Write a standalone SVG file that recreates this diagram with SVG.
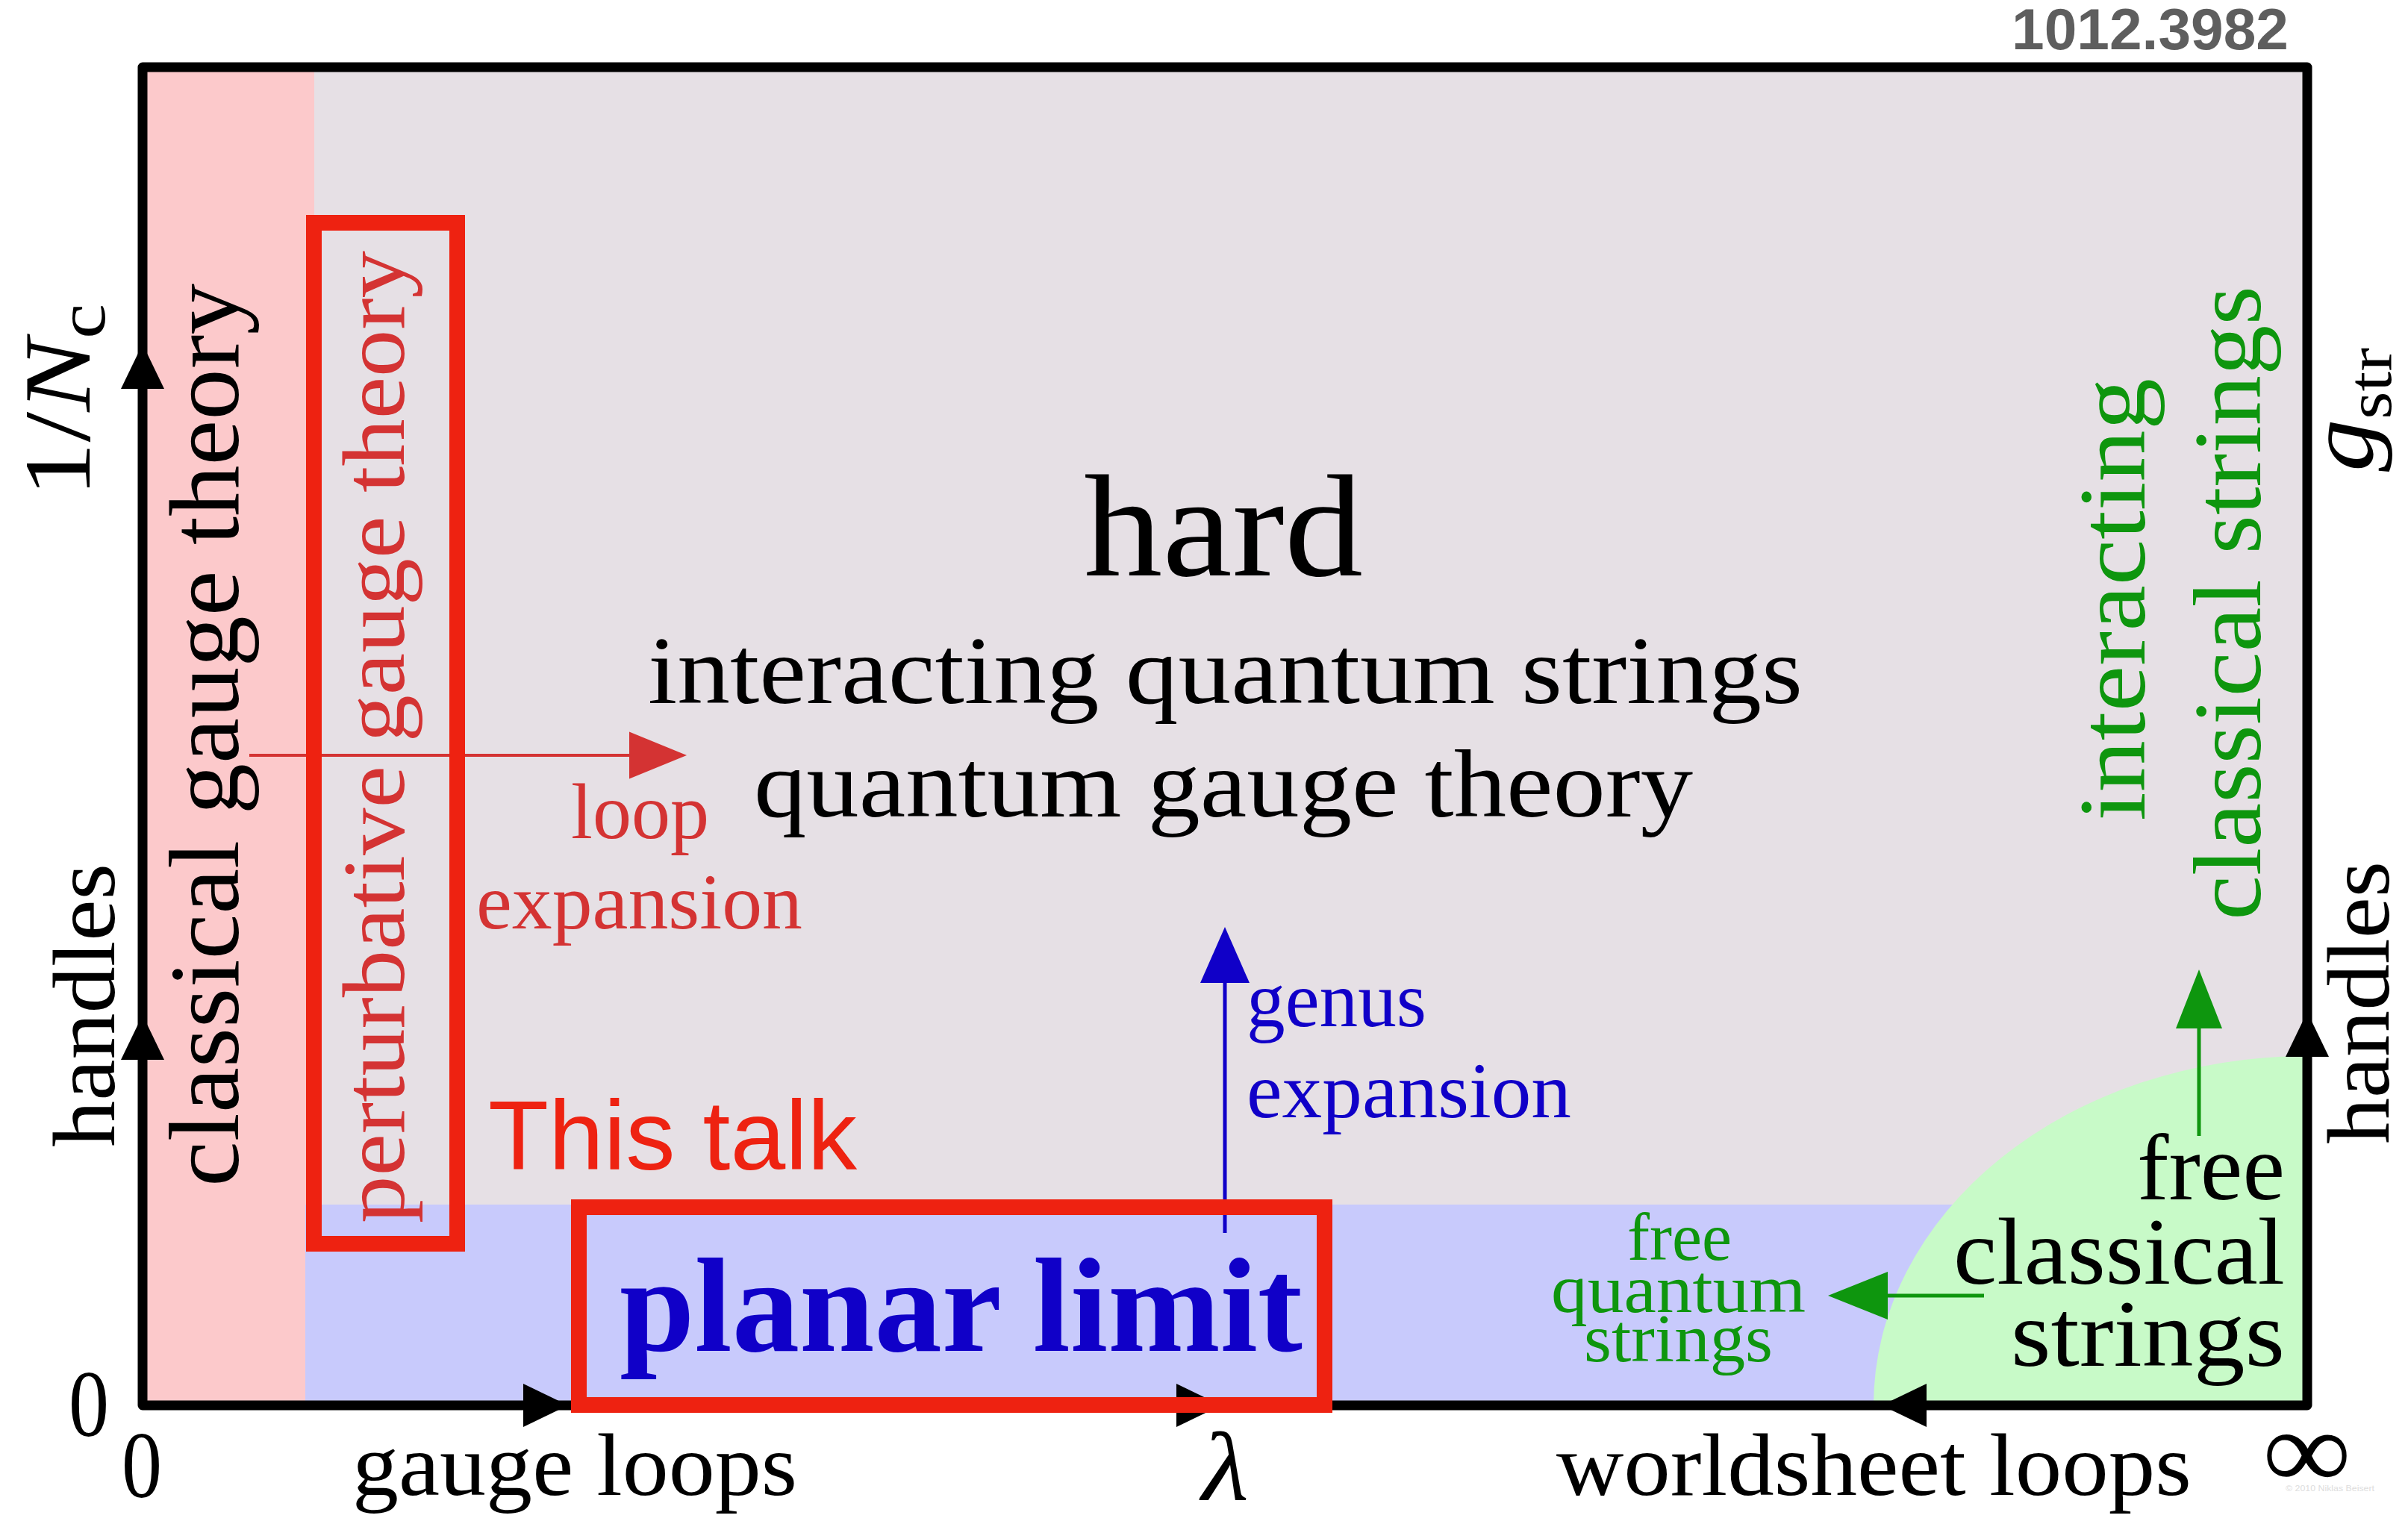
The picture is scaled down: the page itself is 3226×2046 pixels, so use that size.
<svg xmlns="http://www.w3.org/2000/svg" xmlns:xlink="http://www.w3.org/1999/xlink" width="3226" height="2046" viewBox="0 0 3226 2046">
<style>
.serif{font-family:"Liberation Serif","Times New Roman",serif}
.sans{font-family:"Liberation Sans",Arial,sans-serif}
.blk{fill:#000}
.red{fill:#D43333}
.blue{fill:#1000C8}
.green{fill:#0E960E}
.hl{fill:none;stroke:#EE2211;stroke-width:21}
.frame{fill:none;stroke:#000;stroke-width:13;stroke-linejoin:round}
</style>
<defs>
<path id="ah" d="M0,0 L-60,-29 L-60,29 Z"/>
</defs>
<rect width="3226" height="2046" fill="#fff"/>
<g id="regions">
<rect id="hard-region" x="191" y="90" width="2900" height="1793" fill="#E6E0E5"/>
<rect id="classical-region" x="191" y="90" width="230" height="1793" fill="#FCC9CB"/>
<rect id="planar-region" x="409" y="1614" width="2682" height="269" fill="#C8CAFC"/>
<path id="free-classical-region" d="M2510,1883 A581,468 0 0 1 3091,1415 L3091,1883 Z" fill="#C8FAC8"/>
</g>
<g id="texts">
<g id="hard"><text class="serif blk" x="1452" y="771" font-size="196" textLength="374" lengthAdjust="spacingAndGlyphs">hard</text>
<text class="serif blk" x="868" y="942" font-size="130" textLength="1547" lengthAdjust="spacingAndGlyphs">interacting quantum strings</text>
<text class="serif blk" x="1010" y="1094" font-size="130" textLength="1258" lengthAdjust="spacingAndGlyphs">quantum gauge theory</text></g>
<g id="loop-expansion"><text class="serif red" x="765" y="1123" font-size="106" textLength="185" lengthAdjust="spacingAndGlyphs">loop</text>
<text class="serif red" x="638" y="1244" font-size="106" textLength="437" lengthAdjust="spacingAndGlyphs">expansion</text></g>
<g id="genus-expansion"><text class="serif blue" x="1670" y="1375" font-size="106" textLength="241" lengthAdjust="spacingAndGlyphs">genus</text>
<text class="serif blue" x="1670" y="1497" font-size="106" textLength="435" lengthAdjust="spacingAndGlyphs">expansion</text></g>
<g id="this-talk"><text x="654" y="1567" font-family="Liberation Sans, Arial, sans-serif" font-size="132" fill="#EE2211" textLength="494" lengthAdjust="spacingAndGlyphs">This talk</text></g>
<g id="planar-limit"><text class="serif blue" x="830" y="1810" font-size="180" font-weight="bold" textLength="915" lengthAdjust="spacingAndGlyphs">planar limit</text></g>
<g id="free-quantum-strings"><text class="serif green" x="2180" y="1688" font-size="90" textLength="140" lengthAdjust="spacingAndGlyphs">free</text>
<text class="serif green" x="2078" y="1758" font-size="90" textLength="341" lengthAdjust="spacingAndGlyphs">quantum</text>
<text class="serif green" x="2122" y="1824" font-size="90" textLength="253" lengthAdjust="spacingAndGlyphs">strings</text></g>
<g id="free-classical-strings"><text class="serif blk" x="2863" y="1607" font-size="128" textLength="198" lengthAdjust="spacingAndGlyphs">free</text>
<text class="serif blk" x="2617" y="1720" font-size="128" textLength="444" lengthAdjust="spacingAndGlyphs">classical</text>
<text class="serif blk" x="2694" y="1830" font-size="128" textLength="367" lengthAdjust="spacingAndGlyphs">strings</text></g>
<g id="classical-gauge-theory"><text class="serif blk" transform="translate(319,1590) rotate(-90)" font-size="133" textLength="1210" lengthAdjust="spacingAndGlyphs">classical gauge theory</text></g>
<g id="perturbative-gauge-theory"><text class="serif red" transform="translate(541,1639) rotate(-90)" font-size="118" textLength="1303" lengthAdjust="spacingAndGlyphs">perturbative gauge theory</text></g>
<g id="interacting-classical-strings"><text class="serif green" transform="translate(2873,1100) rotate(-90)" font-size="126" textLength="593" lengthAdjust="spacingAndGlyphs">interacting</text>
<text class="serif green" transform="translate(3028,1233) rotate(-90)" font-size="130" textLength="850" lengthAdjust="spacingAndGlyphs">classical strings</text></g>
<g id="axis-labels">
<text class="serif blk" transform="translate(120,666) rotate(-90)" font-size="128" textLength="259" lengthAdjust="spacingAndGlyphs">1/<tspan font-style="italic">N</tspan><tspan font-size="92" dy="20">c</tspan></text>
<text class="serif blk" transform="translate(153,1537) rotate(-90)" font-size="118" textLength="380" lengthAdjust="spacingAndGlyphs">handles</text>
<text class="serif blk" transform="translate(3178,632) rotate(-90)" font-size="125" textLength="166" lengthAdjust="spacingAndGlyphs"><tspan font-style="italic">g</tspan><tspan font-size="85" dy="25">str</tspan></text>
<text class="serif blk" transform="translate(3200,1533) rotate(-90)" font-size="118" textLength="379" lengthAdjust="spacingAndGlyphs">handles</text>
<text class="serif blk" x="92" y="1924" font-size="126" textLength="54" lengthAdjust="spacingAndGlyphs">0</text>
<text class="serif blk" x="163" y="2006" font-size="126" textLength="54" lengthAdjust="spacingAndGlyphs">0</text>
<text class="serif blk" x="472" y="2003" font-size="118" textLength="596" lengthAdjust="spacingAndGlyphs">gauge loops</text>
<text class="serif blk" x="1610" y="2010" font-size="131" font-style="italic" textLength="63" lengthAdjust="spacingAndGlyphs">λ</text>
<text class="serif blk" x="2085" y="2003" font-size="118" textLength="851" lengthAdjust="spacingAndGlyphs">worldsheet loops</text>
<text class="serif blk" x="3031" y="1994" font-size="150" textLength="119" lengthAdjust="spacingAndGlyphs">∞</text>
</g>
<g id="arxiv-id"><text class="sans" x="2695" y="66" font-size="78" font-weight="bold" fill="#5E5E5E" textLength="371" lengthAdjust="spacingAndGlyphs">1012.3982</text></g>
<g id="copyright"><text class="sans" x="3062" y="1998" font-size="11" fill="#DDDDDD" textLength="119" lengthAdjust="spacingAndGlyphs">© 2010 Niklas Beisert</text></g>
</g>
<g id="connectors">
<g id="loop-arrow" fill="#D43333"><line x1="334" y1="1012" x2="850" y2="1012" stroke="#D43333" stroke-width="4"/><path d="M920,1012 L843,980.5 L843,1043.5 Z"/></g>
<g id="genus-arrow" fill="#1000C8"><line x1="1641" y1="1652" x2="1641" y2="1310" stroke="#1000C8" stroke-width="5"/><path d="M1641,1242 L1608,1317 L1674,1317 Z"/></g>
<g id="green-up-arrow" fill="#0E960E"><line x1="2946" y1="1522" x2="2946" y2="1370" stroke="#0E960E" stroke-width="5"/><path d="M2946,1299 L2915,1378 L2977,1378 Z"/></g>
<g id="green-left-arrow" fill="#0E960E"><line x1="2658" y1="1736" x2="2520" y2="1736" stroke="#0E960E" stroke-width="5"/><path d="M2449,1736 L2529,1704 L2529,1768 Z"/></g>
<g id="axes">
<path class="frame" d="M191,1883 L191,90 L3091,90 L3091,1883 Z"/>
<use xlink:href="#ah" transform="translate(191,461) rotate(-90)"/>
<use xlink:href="#ah" transform="translate(191,1360) rotate(-90)"/>
<use xlink:href="#ah" transform="translate(3091,1356) rotate(-90)"/>
<use xlink:href="#ah" transform="translate(761,1883)"/>
<use xlink:href="#ah" transform="translate(1636,1883)"/>
<use xlink:href="#ah" transform="translate(2521,1883) rotate(180)"/>
</g>
</g>
<g id="highlights">
<rect id="perturbative-box" class="hl" x="420.5" y="298.5" width="192" height="1368"/>
<rect id="planar-box" class="hl" x="775.5" y="1617.5" width="999" height="265"/>
</g>
</svg>
